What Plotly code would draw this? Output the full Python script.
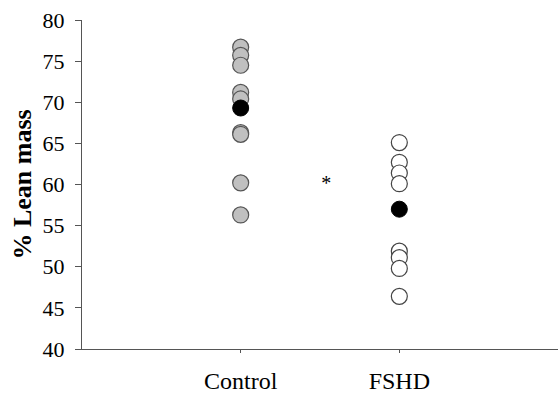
import plotly.graph_objects as go

categories = ["Control", "FSHD"]
control_vals = [76.7, 75.7, 74.5, 71.2, 70.4, 66.3, 66.1, 60.2, 56.3]
control_mean = [69.3]
fshd_vals = [65.1, 62.7, 61.4, 60.1, 51.9, 51.1, 49.8, 46.4]
fshd_mean = [57.0]
y_ticks = [40, 45, 50, 55, 60, 65, 70, 75, 80]
star_pos = (1.54, 60.0)

fig = go.Figure()
fig.add_trace(go.Scatter(
    x=[1] * len(control_vals), y=control_vals, mode="markers",
    marker=dict(size=16, color="#c0c0c0", line=dict(color="#555555", width=1.2)),
    cliponaxis=False, showlegend=False))
fig.add_trace(go.Scatter(
    x=[2] * len(fshd_vals), y=fshd_vals, mode="markers",
    marker=dict(size=16, color="white", line=dict(color="#444444", width=1.2)),
    cliponaxis=False, showlegend=False))
fig.add_trace(go.Scatter(
    x=[1, 2], y=control_mean + fshd_mean, mode="markers",
    marker=dict(size=16, color="black", line=dict(color="black", width=1)),
    cliponaxis=False, showlegend=False))
fig.add_trace(go.Scatter(
    x=[star_pos[0]], y=[star_pos[1]], mode="text", text=["*"],
    textfont=dict(family="Liberation Serif", size=20, color="black"),
    showlegend=False))

fig.update_layout(
    width=558, height=394,
    margin=dict(l=82, r=0, t=20, b=40),
    plot_bgcolor="white", paper_bgcolor="white",
    font=dict(family="Liberation Serif", color="black"),
)
fig.update_xaxes(
    range=[0, 3], tickmode="array", tickvals=[1, 2], ticktext=categories,
    showgrid=False, zeroline=False, showline=True, linecolor="#555555", linewidth=1,
    ticks="outside", ticklen=3, tickcolor="#555555",
    tickfont=dict(family="Liberation Serif", size=24, color="black"),
    ticklabelstandoff=7,
)
fig.update_yaxes(
    range=[40, 80], tickmode="array", tickvals=y_ticks,
    showgrid=False, zeroline=False, showline=True, linecolor="#555555", linewidth=1,
    ticks="outside", ticklen=6, tickcolor="#555555",
    tickfont=dict(family="Liberation Serif", size=22, color="black"),
    ticklabelstandoff=6,
    title=dict(text="<b>% Lean mass</b>", standoff=3,
               font=dict(family="Liberation Serif", size=26, color="black")),
)
fig.write_html("out.html")
